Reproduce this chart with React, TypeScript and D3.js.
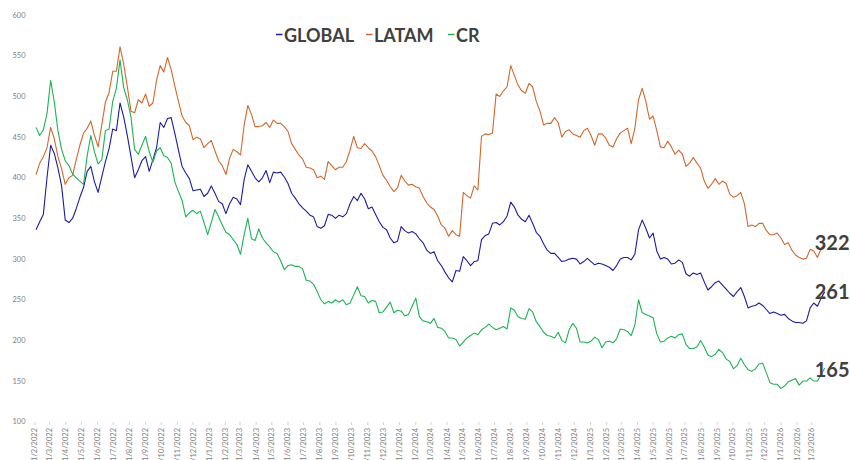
import * as d3 from "d3";

// weekly readings, first week starting 3 Feb 2022
const START = new Date(2022, 1, 3);

const GLOBAL = [
  336, 346, 355, 400, 440, 430, 412, 390, 348, 345,
  350, 362, 376, 388, 408, 414, 395, 382, 401, 420,
  436, 460, 458, 492, 475, 452, 426, 400, 410, 421,
  426, 408, 422, 437, 468, 462, 473, 474, 455, 434,
  414, 406, 399, 384, 385, 386, 377, 381, 390, 381,
  371, 368, 356, 368, 376, 374, 367, 398, 416, 408,
  400, 395, 400, 409, 394, 407, 406, 407, 401, 393,
  381, 375, 368, 363, 359, 354, 352, 340, 338, 341,
  355, 354, 350, 354, 352, 356, 368, 377, 372, 381,
  374, 362, 364, 355, 346, 339, 336, 326, 320, 322,
  340, 335, 332, 334, 331, 325, 320, 311, 307, 309,
  298, 292, 284, 277, 272, 286, 285, 303, 298, 292,
  297, 298, 324, 329, 331, 344, 345, 342, 346, 353,
  370, 364, 354, 349, 346, 354, 344, 333, 328, 319,
  311, 307, 307, 302, 297, 298, 300, 301, 300, 294,
  297, 301, 297, 293, 295, 294, 292, 290, 286, 292,
  300, 302, 302, 299, 306, 336, 348, 338, 326, 332,
  310, 300, 302, 300, 294, 295, 299, 296, 282, 279,
  283, 281, 283, 272, 262, 266, 271, 273, 268, 263,
  258, 254, 260, 265, 254, 240, 242, 243, 246, 243,
  238, 233, 235, 233, 231, 232, 227, 224, 222, 222,
  221, 224, 240, 246, 242, 252, 260,
];

const LATAM = [
  404, 418, 426, 437, 462, 448, 426, 411, 392, 400,
  403, 422, 440, 455, 461, 470, 452, 438, 465, 493,
  505, 531, 531, 561, 540, 512, 482, 480, 496, 492,
  503, 488, 492, 520, 538, 530, 548, 533, 513, 494,
  476, 468, 464, 447, 450, 448, 437, 442, 446, 433,
  421, 415, 404, 424, 435, 432, 428, 465, 489, 478,
  463, 463, 464, 468, 462, 471, 467, 467, 463, 457,
  442, 435, 428, 423, 413, 412, 410, 400, 402, 398,
  420, 415, 410, 413, 413, 420, 434, 451, 437, 436,
  442, 437, 433, 426, 415, 403, 397, 389, 383, 388,
  403, 396, 391, 392, 389, 387, 377, 369, 364, 361,
  353, 342, 338, 328, 335, 330, 328, 382, 378, 375,
  390, 385, 451, 454, 453, 455, 503, 500, 507, 512,
  538, 526, 514, 507, 504, 516, 512, 494, 482, 465,
  467, 467, 474, 468, 450, 457, 459, 454, 452, 450,
  458, 461, 452, 440, 454, 454, 449, 440, 438, 448,
  455, 458, 461, 442, 461, 496, 510, 494, 472, 476,
  458, 438, 437, 445, 438, 429, 434, 429, 414, 418,
  425, 418, 412, 396, 387, 392, 399, 392, 396, 393,
  380, 376, 378, 382, 368, 340, 342, 340, 344, 344,
  335, 330, 330, 332, 326, 318, 320, 311, 305, 302,
  300, 301, 312, 310, 302, 313, 320,
];

const CR = [
  462, 452, 459, 479, 520, 493, 458, 435, 421, 415,
  405, 400, 396, 392, 427, 452, 432, 417, 422, 458,
  460, 494, 510, 545, 511, 496, 475, 435, 429, 440,
  451, 432, 419, 433, 437, 427, 425, 418, 395, 383,
  372, 352, 357, 360, 356, 359, 345, 330, 345, 361,
  352, 342, 333, 330, 324, 318, 306, 330, 350, 325,
  323, 337, 326, 320, 315, 309, 307, 298, 287, 292,
  293, 291, 291, 288, 274, 273, 269, 260, 250, 245,
  248, 246, 250, 247, 250, 244, 246, 256, 266, 255,
  254, 246, 249, 248, 234, 235, 241, 247, 234, 237,
  236, 230, 232, 242, 252, 229, 224, 223, 221, 227,
  216, 215, 211, 203, 203, 201, 193, 198, 203, 206,
  209, 207, 213, 216, 220, 216, 213, 215, 217, 214,
  240, 237, 229, 227, 226, 239, 235, 223, 217, 210,
  206, 205, 203, 210, 200, 197, 213, 221, 215, 198,
  198, 197, 199, 204, 201, 191, 198, 199, 197, 202,
  214, 213, 211, 206, 219, 250, 234, 232, 230, 228,
  208, 198, 199, 203, 205, 203, 207, 208, 195, 190,
  190, 192, 200, 192, 182, 180, 183, 189, 185, 177,
  174, 165, 169, 178, 170, 164, 162, 165, 171, 172,
  160, 148, 146, 146, 141, 144, 149, 151, 153, 145,
  150, 150, 154, 150, 150, 158, 166,
];

const SERIES = [
  { name: "GLOBAL", values: GLOBAL, color: "#1c1ca2", last: 261 },
  { name: "LATAM", values: LATAM, color: "#d2682a", last: 322 },
  { name: "CR", values: CR, color: "#1cb454", last: 165 },
];

const Y_TICKS = [100, 150, 200, 250, 300, 350, 400, 450, 500, 550, 600];
const MONTHS = d3.timeMonth.range(new Date(2022, 1, 1), new Date(2026, 2, 2));

const dates = GLOBAL.map((_, i) => d3.timeDay.offset(START, i * 7));

const font = "Lato, 'Open Sans', sans-serif";

export default function App() {
  const width = 850;
  const height = 460;

  const x = d3
    .scaleTime()
    .domain([new Date(2022, 1, 1), new Date(2026, 2, 1)])
    .range([35, 811.7]);
  const y = d3.scaleLinear().domain([100, 600]).range([421.7, 15.2]);

  const line = d3
    .line<number>()
    .x((_, i) => x(dates[i]))
    .y((d) => y(d));

  const fmt = (d: Date) => `${d.getDate()}/${d.getMonth() + 1}/${d.getFullYear()}`;
  const lastDate = dates[dates.length - 1];

  // legend sits above the plot, in the order of the series
  const legend = [
    { name: "GLOBAL", color: "#1c1ca2", x: 276 },
    { name: "LATAM", color: "#d2682a", x: 366 },
    { name: "CR", color: "#1cb454", x: 448 },
  ];

  return (
    <svg
      width={width}
      height={height}
      style={{ position: "absolute", left: 0, top: 0, background: "#fff" }}
      fontFamily={font}
    >
      {/* y axis labels */}
      {Y_TICKS.map((t) => (
        <text key={t} x={25.5} y={y(t)} dy="0.33em" textAnchor="end" fontSize={7.5} fill="#808080">
          {t}
        </text>
      ))}

      {/* x axis ticks & rotated labels */}
      {MONTHS.map((m) => (
        <g key={m.toISOString()} transform={`translate(${x(m)},0)`}>
          <line y1={422} y2={425} stroke="#c8c8c8" strokeWidth={0.8} />
          <text
            transform="translate(0,428) rotate(-90)"
            dy="0.33em"
            textAnchor="end"
            fontSize={7.5}
            fill="#808080"
          >
            {fmt(m)}
          </text>
        </g>
      ))}

      {/* series */}
      {SERIES.map((s) => (
        <path
          key={s.name}
          d={line(s.values) ?? ""}
          fill="none"
          stroke={s.color}
          strokeWidth={1.1}
          strokeLinejoin="round"
        />
      ))}

      {/* end labels */}
      {SERIES.map((s) => (
        <text
          key={s.name + "-last"}
          x={x(lastDate) - 10}
          y={y(s.last) + 8.5}
          fontSize={20}
          fontWeight={700}
          fill="#404040"
        >
          {s.last}
        </text>
      ))}

      {/* legend */}
      {legend.map((l) => (
        <g key={l.name}>
          <line x1={l.x} x2={l.x + 6.5} y1={34.5} y2={34.5} stroke={l.color} strokeWidth={1.5} />
          <text x={l.x + 8} y={41.7} fontSize={18} fontWeight={700} fill="#404040">
            {l.name}
          </text>
        </g>
      ))}
    </svg>
  );
}
